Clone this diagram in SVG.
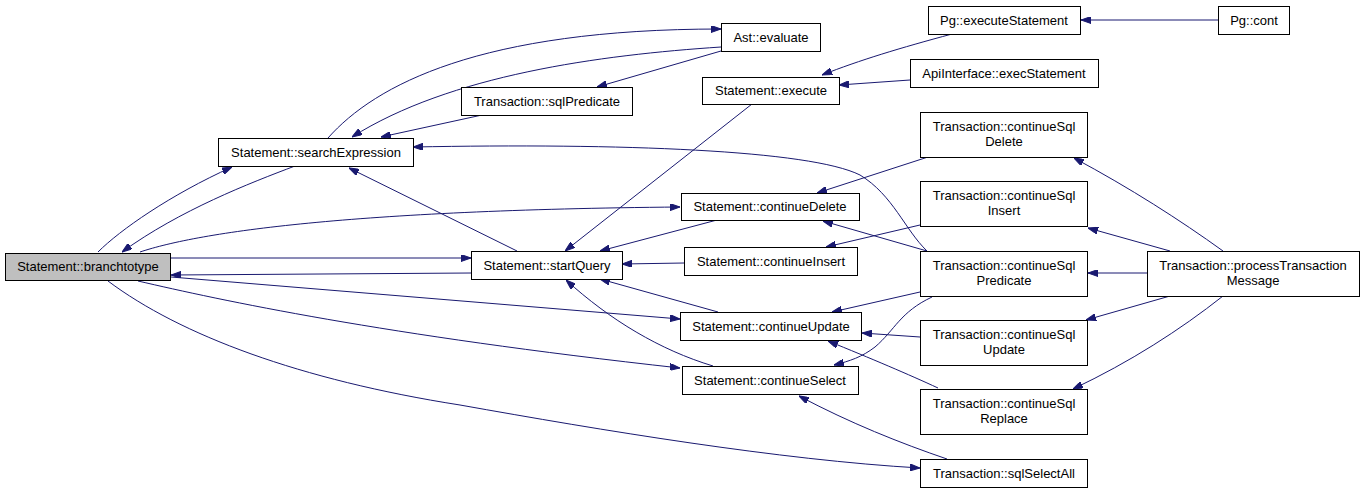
<svg xmlns="http://www.w3.org/2000/svg" width="1365" height="493" viewBox="0 0 1365 493">
<style>
.n rect{fill:#ffffff;stroke:#000000;stroke-width:1}
.n.hl rect{fill:#bfbfbf}
.n text{font-family:"Liberation Sans",Arial,Helvetica,sans-serif;font-size:13px;fill:#000000;text-anchor:middle}
.e path{fill:none;stroke:#191970;stroke-width:1;marker-end:url(#a)}
</style>
<defs>
<marker id="a" viewBox="0 0 10 7" refX="10" refY="3.5" markerWidth="10" markerHeight="7" orient="auto" markerUnits="userSpaceOnUse">
<path d="M0,0 L10,3.5 L0,7 z" fill="#191970" stroke="#191970" stroke-width="1"/>
</marker>
</defs>
<rect width="1365" height="493" fill="#ffffff"/>
<g id="edges" class="e">
<path d="M98,252 C120,230 170,195 232,167"/>
<path d="M295,166 C250,183 180,210 122,252"/>
<path d="M328,138 C375,85 480,29 721,29"/>
<path d="M721,47 C600,55 450,75 352,137"/>
<path d="M721,51 L597,87"/>
<path d="M482,115 L381,137"/>
<path d="M927,251 C905,230 893,195 860,175 C810,150 620,143 413,147"/>
<path d="M517,251 L349,168"/>
<path d="M140,252 C200,232 350,210 680,207"/>
<path d="M170,258 L471,258"/>
<path d="M471,273 L171,275"/>
<path d="M171,277 L680,319"/>
<path d="M138,281 C220,300 380,335 680,368"/>
<path d="M108,281 C180,335 300,380 460,405 C600,430 780,460 920,468"/>
<path d="M752,104 L565,251"/>
<path d="M717,220 L600,251"/>
<path d="M684,263 L622,264"/>
<path d="M718,312 L600,279"/>
<path d="M713,366 C660,350 610,320 566,280"/>
<path d="M928,157 L817,193"/>
<path d="M927,251 L823,221"/>
<path d="M920,225 L826,247"/>
<path d="M920,292 L832,312"/>
<path d="M920,337 L862,333"/>
<path d="M938,388 C910,375 870,358 828,341"/>
<path d="M932,297 C900,312 895,330 875,347 C862,357 850,361 834,365"/>
<path d="M947,459 C900,443 850,423 799,396"/>
<path d="M952,34 C900,48 860,60 822,75"/>
<path d="M910,80 L839,85"/>
<path d="M1218,20 L1081,20"/>
<path d="M1223,251 C1180,220 1130,188 1074,158"/>
<path d="M1170,251 L1088,228"/>
<path d="M1147,273 L1088,273"/>
<path d="M1170,296 L1086,320"/>
<path d="M1223,296 C1180,330 1130,362 1073,389"/>
</g>
<g id="branchtotype" class="n hl"><rect x="5.5" y="253.5" width="165" height="27"/><text x="88" y="271">Statement::branchtotype</text></g>
<g id="searchExpression" class="n"><rect x="218.5" y="138.5" width="195" height="28"/><text x="316" y="157">Statement::searchExpression</text></g>
<g id="evaluate" class="n"><rect x="721.5" y="23.5" width="99" height="28"/><text x="771" y="42">Ast::evaluate</text></g>
<g id="sqlPredicate" class="n"><rect x="461.5" y="87.5" width="171" height="28"/><text x="547" y="106">Transaction::sqlPredicate</text></g>
<g id="execute" class="n"><rect x="702.5" y="77.5" width="137" height="27"/><text x="771" y="95">Statement::execute</text></g>
<g id="continueDelete" class="n"><rect x="681.5" y="193.5" width="178" height="27"/><text x="770" y="211">Statement::continueDelete</text></g>
<g id="startQuery" class="n"><rect x="471.5" y="251.5" width="151" height="28"/><text x="547" y="270">Statement::startQuery</text></g>
<g id="continueInsert" class="n"><rect x="684.5" y="247.5" width="173" height="28"/><text x="771" y="266">Statement::continueInsert</text></g>
<g id="continueUpdate" class="n"><rect x="680.5" y="312.5" width="181" height="28"/><text x="771" y="331">Statement::continueUpdate</text></g>
<g id="continueSelect" class="n"><rect x="682.5" y="366.5" width="176" height="28"/><text x="770" y="385">Statement::continueSelect</text></g>
<g id="executeStatement" class="n"><rect x="928.5" y="6.5" width="152" height="28"/><text x="1004" y="25">Pg::executeStatement</text></g>
<g id="cont" class="n"><rect x="1218.5" y="6.5" width="71" height="28"/><text x="1254" y="25">Pg::cont</text></g>
<g id="execStatement" class="n"><rect x="910.5" y="59.5" width="188" height="28"/><text x="1004" y="78">ApiInterface::execStatement</text></g>
<g id="continueSqlDelete" class="n"><rect x="920.5" y="112.5" width="167" height="45"/><text x="1004" y="131">Transaction::continueSql</text><text x="1004" y="146">Delete</text></g>
<g id="continueSqlInsert" class="n"><rect x="920.5" y="181.5" width="167" height="45"/><text x="1004" y="200">Transaction::continueSql</text><text x="1004" y="215">Insert</text></g>
<g id="continueSqlPredicate" class="n"><rect x="920.5" y="251.5" width="167" height="45"/><text x="1004" y="270">Transaction::continueSql</text><text x="1004" y="285">Predicate</text></g>
<g id="processTransactionMessage" class="n"><rect x="1147.5" y="251.5" width="212" height="45"/><text x="1253" y="270">Transaction::processTransaction</text><text x="1253" y="285">Message</text></g>
<g id="continueSqlUpdate" class="n"><rect x="920.5" y="320.5" width="167" height="45"/><text x="1004" y="339">Transaction::continueSql</text><text x="1004" y="354">Update</text></g>
<g id="continueSqlReplace" class="n"><rect x="920.5" y="389.5" width="167" height="45"/><text x="1004" y="408">Transaction::continueSql</text><text x="1004" y="423">Replace</text></g>
<g id="sqlSelectAll" class="n"><rect x="920.5" y="459.5" width="167" height="28"/><text x="1004" y="478">Transaction::sqlSelectAll</text></g>
</svg>
